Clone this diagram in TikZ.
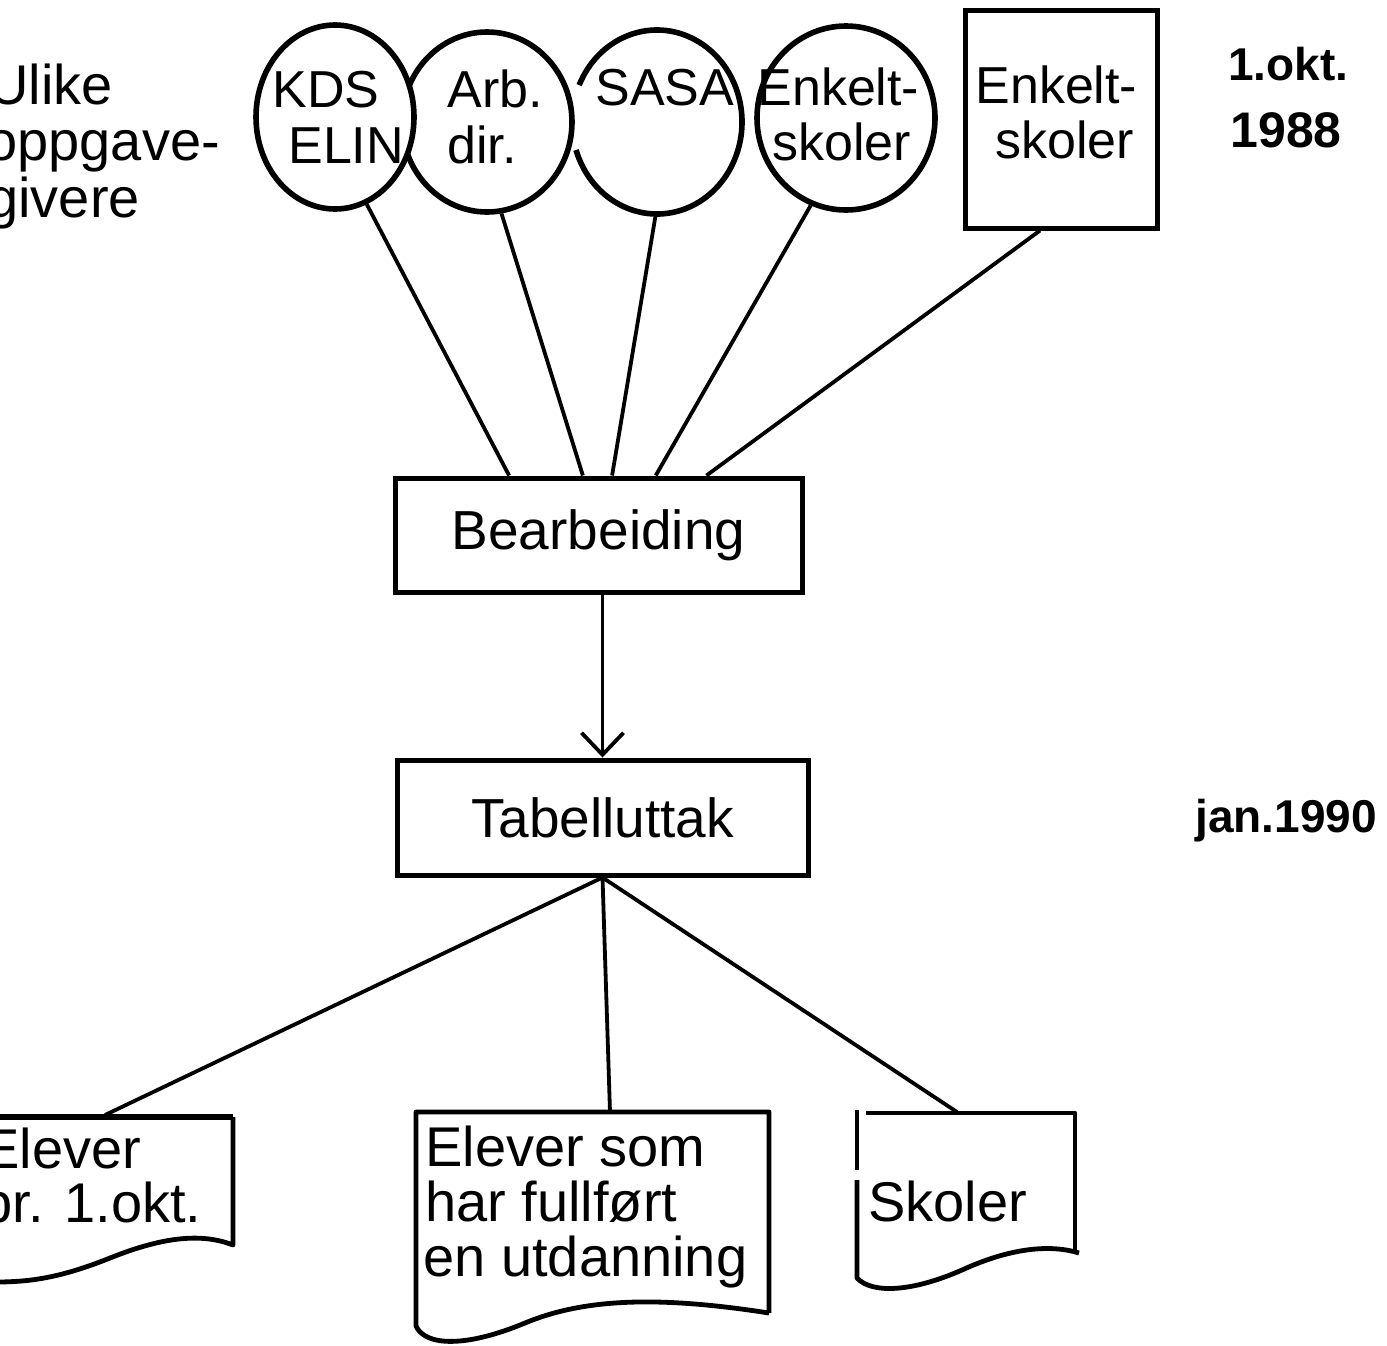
\documentclass[tikz,border=0pt]{standalone}
\usepackage{fontspec}
\setmainfont{Liberation Sans}
\usetikzlibrary{shapes.geometric,arrows.meta,calc}
\begin{document}
\begin{tikzpicture}[x=0.5pt,y=-0.5pt,
  lbl/.style={inner sep=0pt, anchor=base west, font=\fontsize{26}{28}\selectfont},
  headlbl/.style={inner sep=0pt, anchor=base west, font=\fontsize{28}{30}\selectfont},
  botlbl/.style={inner sep=0pt, anchor=base west, font=\fontsize{28}{30}\selectfont},
  datelbl/.style={inner sep=0pt, anchor=base west, font=\fontsize{23}{25}\selectfont\bfseries},
  circ/.style={ellipse, draw, line width=2.8pt, fill=white, inner sep=0pt},
  boxnode/.style={rectangle, draw, line width=2.5pt, inner sep=0pt, font=\fontsize{27.5}{30}\selectfont},
  con/.style={line width=1.9pt},
  docline/.style={line width=2.4pt, line join=round}
]
\path[use as bounding box] (0,0) rectangle (1387,1345);
\clip (0,0) rectangle (1387,1345);

% left heading
\node[headlbl] (u1) at (-12,104) {Ulike};
\node[headlbl] (u2) at (-14,160) {oppgave-};
\node[headlbl] (u3) at (-13,217) {givere};

% circles
\node[circ, draw=none, minimum width=85pt, minimum height=92pt] (c3) at (657,122) {};
\draw[line width=2.8pt] ($(c3.center)+(203.6:85 and 92)$) arc[start angle=203.6, end angle=522.3, x radius=85, y radius=92];
\node[circ, minimum width=85pt, minimum height=90pt] (c2) at (487,122) {};
\node[circ, minimum width=79pt, minimum height=92pt] (c1) at (335,117) {};
\node[circ, minimum width=89pt, minimum height=92pt] (c4) at (846,118) {};
\node[boxnode, minimum width=96pt, minimum height=109pt] (r5) at (1061,119) {};

\node[lbl] (t1a) at (272,107) {KDS};
\node[lbl] (t1b) at (288,163) {ELIN};
\node[lbl] (t2a) at (447,107) {Arb.};
\node[lbl] (t2b) at (447,163) {dir.};
\node[lbl] (t3a) at (595,105) {SASA};
\node[lbl] (t4a) at (757,105) {Enkelt-};
\node[lbl] (t4b) at (772,160) {skoler};
\node[lbl] (t5a) at (975,103) {Enkelt-};
\node[lbl] (t5b) at (995,158) {skoler};

% dates
\node[datelbl] (d1) at (1228,80) {1.okt.};
\node[datelbl, font=\fontsize{25}{27}\selectfont\bfseries] (d2) at (1230,147) {1988};
\node[datelbl] (d3) at (1195,832) {jan.1990};

% process boxes
\node[boxnode, minimum width=203.5pt, minimum height=57pt] (bear) at (598.5,535) {Bearbeiding};
\node[boxnode, minimum width=205.5pt, minimum height=57.5pt] (tab) at (602.5,817.5) {Tabelluttak};

% connectors to Bearbeiding
\draw[con] (c1.-70) -- ($(bear.north west)!0.283!(bear.north east)$);
\draw[con] (c2.-81) -- ($(bear.north west)!0.462!(bear.north east)$);
\draw[con] (c3.-91) -- ($(bear.north west)!0.533!(bear.north east)$);
\draw[con] (c4.-112) -- ($(bear.north west)!0.639!(bear.north east)$);
\draw[con] ([xshift=-10.5pt]r5.south) -- ($(bear.north west)!0.762!(bear.north east)$);

% arrow
\draw[con, -{Straight Barb[length=11pt,width=21pt]}] (bear.south -| tab.north) -- (tab.north);

% documents
\coordinate (d1top) at (105,1115);
\coordinate (d2top) at (610,1112);
\coordinate (d3top) at (957,1112);
\draw[con] (tab.south) -- (d1top);
\draw[con] (tab.south) -- (d2top);
\draw[con] (tab.south) -- (d3top);

\draw[line width=3.2pt] (-5,1117) -- (233,1117);
\draw[docline] (233,1117) -- (233,1245) .. controls (200,1232) and (160,1238) .. (110,1258) .. controls (60,1278) and (30,1282) .. (-5,1282);

\draw[docline] (769,1313) -- (769,1112) -- (416,1112) -- (416,1326) .. controls (425,1346) and (465,1348) .. (525,1323) .. controls (585,1298) and (660,1296) .. (769,1313);

\draw[docline] (857,1110) -- (857,1170);
\draw[docline] (857,1180) -- (857,1278) .. controls (872,1294) and (912,1292) .. (962,1270) .. controls (1010,1248) and (1050,1244) .. (1079,1253);
\draw[docline] (866,1113) -- (1075,1113) -- (1075,1253);

\node[botlbl] (e1) at (-18,1168) {Elever};
\node[botlbl] (e2) at (-19,1222) {pr. 1.okt.};
\node[botlbl] (m1) at (425,1166) {Elever som};
\node[botlbl] (m2) at (425,1221) {har fullført};
\node[botlbl] (m3) at (423,1276) {en utdanning};
\node[botlbl] (s1) at (868,1221) {Skoler};
\end{tikzpicture}
\end{document}
